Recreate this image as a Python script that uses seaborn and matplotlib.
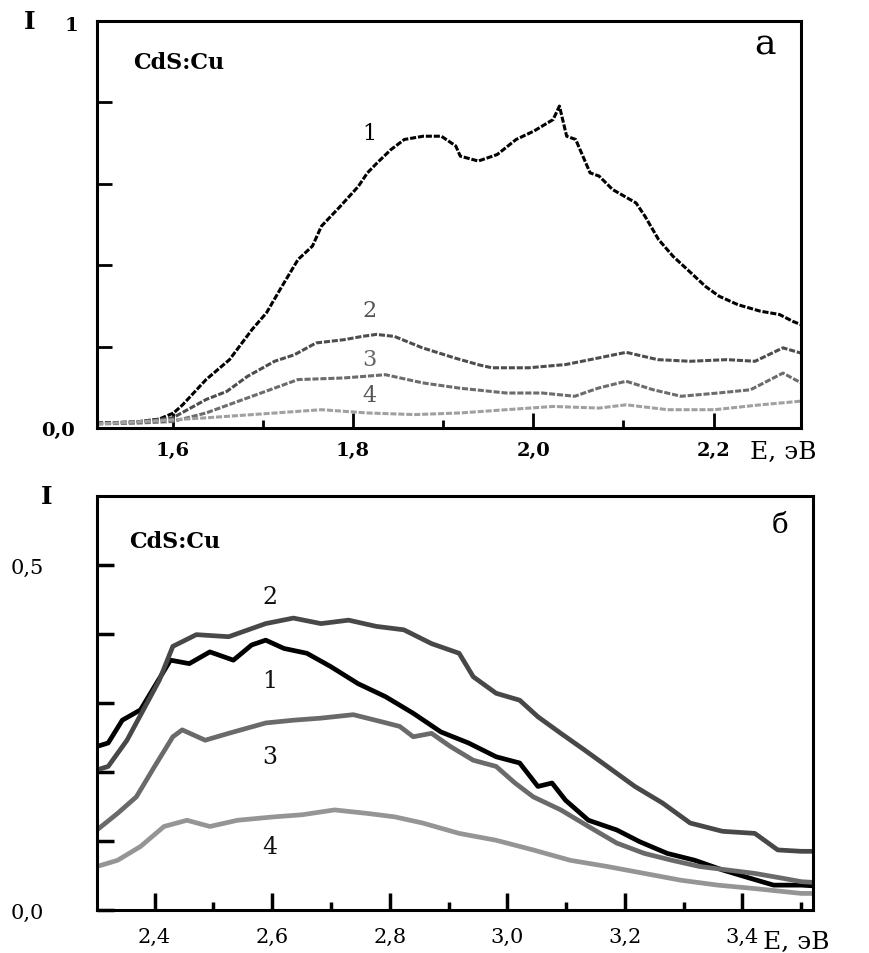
import numpy as np
import pandas as pd
import matplotlib
matplotlib.use("Agg")
import matplotlib.pyplot as plt
import seaborn as sns
from matplotlib.ticker import MultipleLocator

# ---------------- data: panel а ----------------
a_E1 = [1.516, 1.56, 1.585, 1.601, 1.611, 1.637, 1.663, 1.688, 1.704, 1.719, 1.739, 1.755, 1.765,
        1.786, 1.806, 1.816, 1.827, 1.842, 1.857, 1.878, 1.898, 1.914, 1.919, 1.939, 1.96,
        1.981, 2.001, 2.022, 2.029, 2.037, 2.047, 2.063, 2.073, 2.088, 2.114, 2.124, 2.139,
        2.155, 2.175, 2.191, 2.206, 2.227, 2.252, 2.273, 2.288, 2.297]
a_I1 = [0.012, 0.015, 0.022, 0.037, 0.057, 0.119, 0.168, 0.242, 0.283, 0.340, 0.414, 0.447, 0.496,
        0.545, 0.594, 0.627, 0.652, 0.684, 0.709, 0.717, 0.717, 0.693, 0.668, 0.656, 0.672,
        0.709, 0.730, 0.758, 0.791, 0.717, 0.709, 0.627, 0.619, 0.586, 0.553, 0.520, 0.463,
        0.422, 0.381, 0.348, 0.324, 0.303, 0.287, 0.279, 0.262, 0.254]

a_E2 = [1.516, 1.56, 1.6, 1.637, 1.66, 1.683, 1.713, 1.735, 1.759, 1.79, 1.81, 1.826, 1.846, 1.877,
        1.913, 1.94, 1.954, 1.995, 2.036, 2.072, 2.103, 2.138, 2.174, 2.215, 2.246, 2.277, 2.297]
a_I2 = [0.012, 0.015, 0.025, 0.07, 0.09, 0.127, 0.164, 0.18, 0.209, 0.217, 0.225, 0.23, 0.225, 0.197,
        0.172, 0.155, 0.148, 0.148, 0.156, 0.172, 0.186, 0.168, 0.164, 0.168, 0.164, 0.197, 0.184]

a_E3 = [1.516, 1.56, 1.6, 1.637, 1.688, 1.739, 1.79, 1.836, 1.877, 1.918, 1.97, 2.01, 2.046, 2.072,
        2.103, 2.133, 2.164, 2.205, 2.241, 2.277, 2.297]
a_I3 = [0.01, 0.012, 0.016, 0.037, 0.078, 0.119, 0.123, 0.131, 0.111, 0.098, 0.086, 0.086, 0.078, 0.098,
        0.115, 0.094, 0.078, 0.086, 0.094, 0.135, 0.111]

a_E4 = [1.516, 1.56, 1.637, 1.714, 1.765, 1.816, 1.868, 1.919, 1.97, 2.022, 2.073, 2.103, 2.149,
        2.201, 2.252, 2.297]
a_I4 = [0.01, 0.015, 0.025, 0.037, 0.045, 0.037, 0.033, 0.037, 0.045, 0.053, 0.049, 0.057, 0.045,
        0.045, 0.057, 0.066]

# ---------------- data: panel б ----------------
b_E1 = [2.302, 2.321, 2.345, 2.376, 2.4, 2.427, 2.459, 2.494, 2.534, 2.565, 2.589, 2.62, 2.659, 2.699,
        2.746, 2.793, 2.84, 2.887, 2.934, 2.981, 3.021, 3.052, 3.076, 3.099, 3.138, 3.186, 3.225,
        3.272, 3.319, 3.366, 3.413, 3.453, 3.5, 3.52]
b_I1 = [0.237, 0.242, 0.275, 0.29, 0.324, 0.362, 0.357, 0.374, 0.362, 0.384, 0.391, 0.379, 0.372, 0.353,
        0.328, 0.309, 0.285, 0.258, 0.242, 0.222, 0.213, 0.179, 0.184, 0.159, 0.130, 0.116, 0.099,
        0.082, 0.072, 0.058, 0.046, 0.036, 0.036, 0.035]

b_E2 = [2.302, 2.321, 2.353, 2.384, 2.408, 2.431, 2.471, 2.526, 2.589, 2.636, 2.683, 2.73, 2.777, 2.824,
        2.871, 2.918, 2.942, 2.981, 3.021, 3.052, 3.091, 3.131, 3.17, 3.217, 3.264, 3.311, 3.366,
        3.421, 3.46, 3.5, 3.52]
b_I2 = [0.203, 0.208, 0.246, 0.295, 0.333, 0.382, 0.399, 0.396, 0.415, 0.423, 0.415, 0.42, 0.411, 0.406,
        0.386, 0.372, 0.338, 0.314, 0.304, 0.280, 0.256, 0.232, 0.208, 0.179, 0.155, 0.126, 0.114,
        0.111, 0.087, 0.085, 0.085]

b_E3 = [2.302, 2.337, 2.369, 2.4, 2.431, 2.447, 2.486, 2.526, 2.589, 2.636, 2.683, 2.738, 2.785, 2.817,
        2.840, 2.871, 2.903, 2.942, 2.981, 3.013, 3.044, 3.091, 3.138, 3.186, 3.233, 3.28, 3.327,
        3.374, 3.421, 3.468, 3.5, 3.52]
b_I3 = [0.116, 0.14, 0.164, 0.208, 0.251, 0.261, 0.246, 0.256, 0.271, 0.275, 0.278, 0.283, 0.273, 0.266,
        0.251, 0.256, 0.237, 0.217, 0.208, 0.184, 0.164, 0.145, 0.121, 0.097, 0.082, 0.072, 0.063,
        0.058, 0.053, 0.046, 0.041, 0.04]

b_E4 = [2.302, 2.337, 2.376, 2.416, 2.455, 2.494, 2.541, 2.604, 2.651, 2.706, 2.761, 2.808, 2.856,
        2.918, 2.981, 3.044, 3.107, 3.17, 3.233, 3.296, 3.358, 3.421, 3.5, 3.52]
b_I4 = [0.063, 0.072, 0.092, 0.121, 0.130, 0.121, 0.130, 0.135, 0.138, 0.145, 0.140, 0.135, 0.126,
        0.111, 0.101, 0.087, 0.072, 0.063, 0.053, 0.043, 0.036, 0.031, 0.024, 0.024]

curve_labels = ["1", "2", "3", "4"]
a_xticklabels = ["1,6", "1,8", "2,0", "2,2"]
b_xticklabels = ["2,4", "2,6", "2,8", "3,0", "3,2", "3,4"]

# ---------------- style ----------------
sns.set_style("ticks")
plt.rcParams["font.family"] = ["DejaVu Serif", "Liberation Serif"]
plt.rcParams["axes.linewidth"] = 2.2
plt.rcParams["text.color"] = "black"
plt.rcParams["xtick.color"] = "black"
plt.rcParams["ytick.color"] = "black"
plt.rcParams["xtick.labelcolor"] = "black"
plt.rcParams["ytick.labelcolor"] = "black"

fig = plt.figure(figsize=(8.7, 9.54), dpi=100)
ax1 = fig.add_axes([0.1115, 0.5503, 0.8092, 0.4266])
ax2 = fig.add_axes([0.1115, 0.0451, 0.823, 0.434])

top_colors = ["#000000", "#4d4d4d", "#6c6c6c", "#a0a0a0"]
bot_colors = ["#000000", "#484848", "#6a6a6a", "#959595"]

a_sets = [(a_E1, a_I1), (a_E2, a_I2), (a_E3, a_I3), (a_E4, a_I4)]
b_sets = [(b_E1, b_I1), (b_E2, b_I2), (b_E3, b_I3), (b_E4, b_I4)]

for k, (e, i) in enumerate(a_sets):
    df = pd.DataFrame({"E": e, "I": i})
    sns.lineplot(data=df, x="E", y="I", ax=ax1, color=top_colors[k], lw=2.2,
                 estimator=None, sort=False)
    ax1.lines[-1].set_linestyle((0, (2.0, 0.6)))
for k, (e, i) in enumerate(b_sets):
    df = pd.DataFrame({"E": e, "I": i})
    sns.lineplot(data=df, x="E", y="I", ax=ax2, color=bot_colors[k], lw=3.4,
                 estimator=None, sort=False)

# ---------------- axes panel а ----------------
ax1.set_xlim(1.516, 2.297)
ax1.set_ylim(0, 1.0)
ax1.set_xticks([1.6, 1.8, 2.0, 2.2])
ax1.set_xticklabels(a_xticklabels, fontsize=14, fontweight="bold")
ax1.xaxis.set_minor_locator(MultipleLocator(0.1))
ax1.set_yticks([0, 0.2, 0.4, 0.6, 0.8, 1.0])
ax1.set_yticklabels(["0,0", "", "", "", "", ""], fontsize=14, fontweight="bold")
ax1.tick_params(axis="x", which="major", direction="in", length=11, width=2, pad=9)
ax1.tick_params(axis="x", which="minor", direction="in", length=6, width=2)
ax1.tick_params(axis="y", which="major", direction="in", length=11, width=2, pad=16)
ax1.set_xlabel("")
ax1.set_ylabel("")
ax1.text(-0.095, 1.0, "I", transform=ax1.transAxes, fontsize=18, fontweight="bold",
         ha="center", va="center")
ax1.text(-0.036, 0.99, "1", transform=ax1.transAxes, fontsize=14, fontweight="bold",
         ha="center", va="center")
ax1.text(2.24, -0.057, "E, эВ", transform=ax1.get_xaxis_transform(), fontsize=18,
         ha="left", va="center")
ax1.text(1.556, 0.90, "CdS:Cu", fontsize=16, fontweight="bold", ha="left", va="center")
ax1.text(2.257, 0.945, "а", fontsize=26, ha="center", va="center")
a_lab_y = [0.725, 0.29, 0.17, 0.08]
a_lab_col = ["#000000", "#555555", "#666666", "#555555"]
for k in range(4):
    ax1.text(1.818, a_lab_y[k], curve_labels[k], fontsize=16, ha="center", va="center",
             color=a_lab_col[k])

# ---------------- axes panel б ----------------
ax2.set_xlim(2.302, 3.52)
ax2.set_ylim(0, 0.6)
ax2.set_xticks([2.4, 2.6, 2.8, 3.0, 3.2, 3.4])
ax2.set_xticklabels(b_xticklabels, fontsize=15)
ax2.xaxis.set_minor_locator(MultipleLocator(0.1))
ax2.set_yticks([0, 0.1, 0.2, 0.3, 0.4, 0.5])
ax2.set_yticklabels(["0,0", "", "", "", "", "0,5"], fontsize=15)
ax2.tick_params(axis="x", which="major", direction="in", length=12, width=2.5, pad=12)
ax2.tick_params(axis="x", which="minor", direction="in", length=6, width=2.5)
ax2.tick_params(axis="y", which="major", direction="in", length=12, width=2.5, pad=38)
ax2.set_xlabel("")
ax2.set_ylabel("")
ax2.text(-0.07, 1.0, "I", transform=ax2.transAxes, fontsize=18, fontweight="bold",
         ha="center", va="center")
ax2.text(3.435, -0.075, "E, эВ", transform=ax2.get_xaxis_transform(), fontsize=18,
         ha="left", va="center")
ax2.text(2.356, 0.534, "CdS:Cu", fontsize=16, fontweight="bold", ha="left", va="center")
ax2.text(3.464, 0.558, "б", fontsize=20, ha="center", va="center")
b_lab_y = [0.333, 0.454, 0.222, 0.092]
for k in range(4):
    ax2.text(2.596, b_lab_y[k], curve_labels[k], fontsize=17, ha="center", va="center",
             color="#111111")

for ax in (ax1, ax2):
    for s in ax.spines.values():
        s.set_visible(True)
        s.set_color("black")

fig.savefig("out.png", dpi=100)
